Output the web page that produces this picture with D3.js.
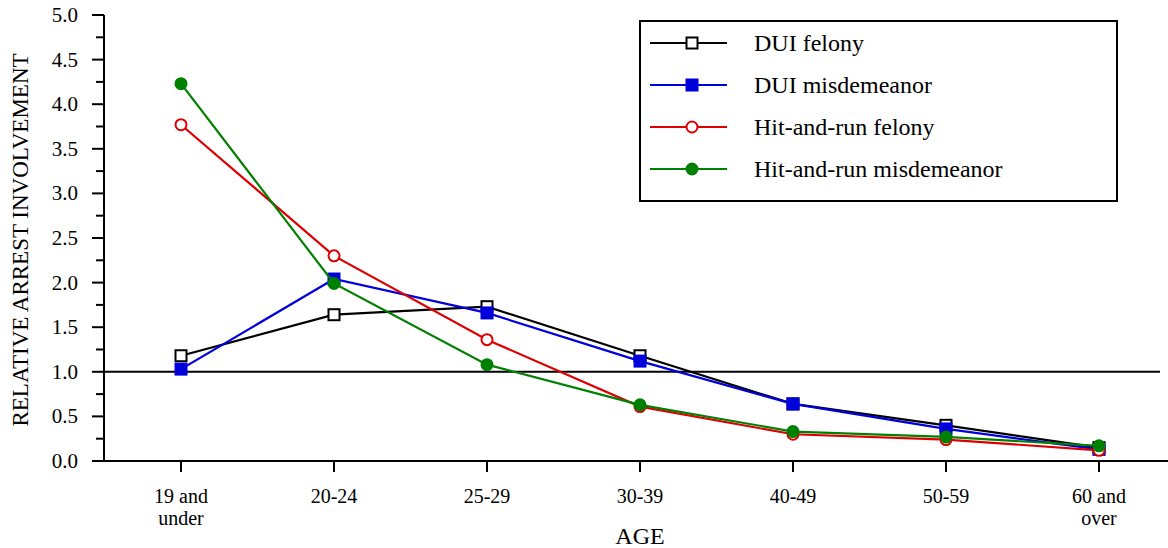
<!doctype html>
<html>
<head>
<style>
  body { margin: 0; background: #fff; }
  text { font-family: "Liberation Serif", "Times New Roman", serif; fill: #000; }
</style>
<script src="https://d3js.org/d3.v7.min.js"></script>
</head>
<body>
<div id="chart"></div>
<script>
// data
var ages = ["19 and\nunder", "20-24", "25-29", "30-39", "40-49", "50-59", "60 and\nover"];
var duiFelony = [1.18, 1.64, 1.73, 1.18, 0.64, 0.40, 0.15];
var duiMisdemeanor = [1.03, 2.04, 1.66, 1.12, 0.64, 0.36, 0.13];
var hitRunFelony = [3.77, 2.30, 1.36, 0.61, 0.30, 0.24, 0.12];
var hitRunMisdemeanor = [4.23, 1.99, 1.08, 0.63, 0.33, 0.27, 0.17];
var yTicks = [0, 0.5, 1, 1.5, 2, 2.5, 3, 3.5, 4, 4.5, 5];

var series = [
  { name: "DUI felony", values: duiFelony, color: "#000000", shape: "square", filled: false },
  { name: "DUI misdemeanor", values: duiMisdemeanor, color: "#0000dd", shape: "square", filled: true },
  { name: "Hit-and-run felony", values: hitRunFelony, color: "#dd0000", shape: "circle", filled: false },
  { name: "Hit-and-run misdemeanor", values: hitRunMisdemeanor, color: "#008000", shape: "circle", filled: true }
];

var width = 1168, height = 548;
var svg = d3.select("#chart").append("svg")
  .attr("width", width).attr("height", height);

var x = d3.scalePoint().domain(ages).range([181, 1099]);
var y = d3.scaleLinear().domain([0, 5]).range([461, 15]);

// y axis: minor ticks every 0.25, labels every 0.5
var yAxis = svg.append("g").attr("transform", "translate(104,0)");
yAxis.append("line").attr("x1", 0).attr("x2", 0).attr("y1", y(5)).attr("y2", y(0))
  .attr("stroke", "#000").attr("stroke-width", 2);
yAxis.selectAll(".minor").data(d3.range(0.25, 5, 0.5)).join("line")
  .attr("x1", -8).attr("x2", 0).attr("y1", d => y(d)).attr("y2", d => y(d))
  .attr("stroke", "#000").attr("stroke-width", 2);
yAxis.selectAll(".major").data(yTicks).join("line")
  .attr("x1", -12).attr("x2", 0).attr("y1", d => y(d)).attr("y2", d => y(d))
  .attr("stroke", "#000").attr("stroke-width", 2);
yAxis.selectAll(".lbl").data(yTicks).join("text")
  .attr("x", -26).attr("y", d => y(d) + 7)
  .attr("text-anchor", "end").attr("font-size", "21px")
  .text(d => d.toFixed(1));

svg.append("text")
  .attr("transform", "translate(28,240) rotate(-90)")
  .attr("text-anchor", "middle").attr("font-size", "23px")
  .text("RELATIVE ARREST INVOLVEMENT");

// x axis
svg.append("line").attr("x1", 92).attr("x2", 1168).attr("y1", y(0)).attr("y2", y(0))
  .attr("stroke", "#000").attr("stroke-width", 2);
var xt = svg.append("g").selectAll("g").data(ages).join("g")
  .attr("transform", d => "translate(" + x(d) + "," + y(0) + ")");
xt.append("line").attr("y1", 0).attr("y2", 11).attr("stroke", "#000").attr("stroke-width", 2);
xt.each(function(d) {
  var lines = d.split("\n");
  var t = d3.select(this).append("text").attr("text-anchor", "middle").attr("font-size", "20px");
  lines.forEach(function(l, i) {
    t.append("tspan").attr("x", 0).attr("y", 42 + i * 22).text(l);
  });
});
svg.append("text").attr("x", 640).attr("y", 544).attr("text-anchor", "middle")
  .attr("font-size", "24px").text("AGE");

// reference line at 1.0
svg.append("line").attr("x1", 104).attr("x2", 1160).attr("y1", y(1)).attr("y2", y(1))
  .attr("stroke", "#000").attr("stroke-width", 2);

function drawMarker(g, s, cx, cy) {
  if (s.shape == "square") {
    g.append("rect").attr("x", cx - 5.5).attr("y", cy - 5.5).attr("width", 11).attr("height", 11)
      .attr("fill", s.filled ? s.color : "#fff").attr("stroke", s.color).attr("stroke-width", 2);
  } else {
    g.append("circle").attr("cx", cx).attr("cy", cy).attr("r", 5.5)
      .attr("fill", s.filled ? s.color : "#fff").attr("stroke", s.color).attr("stroke-width", 2);
  }
}

var line = d3.line().x((d, i) => x(ages[i])).y(d => y(d));
series.forEach(function(s) {
  var g = svg.append("g");
  g.append("path").datum(s.values).attr("d", line)
    .attr("fill", "none").attr("stroke", s.color).attr("stroke-width", 2.2);
  s.values.forEach(function(v, i) { drawMarker(g, s, x(ages[i]), y(v)); });
});

// legend
var legend = svg.append("g");
legend.append("rect").attr("x", 640).attr("y", 21).attr("width", 477).attr("height", 180)
  .attr("fill", "#fff").attr("stroke", "#000").attr("stroke-width", 2);
series.forEach(function(s, i) {
  var cy = 43 + i * 42;
  legend.append("line").attr("x1", 650).attr("x2", 727).attr("y1", cy).attr("y2", cy)
    .attr("stroke", s.color).attr("stroke-width", 2.2);
  drawMarker(legend, s, 692, cy);
  legend.append("text").attr("x", 754).attr("y", cy + 8).attr("font-size", "24px").text(s.name);
});
</script>
</body>
</html>
